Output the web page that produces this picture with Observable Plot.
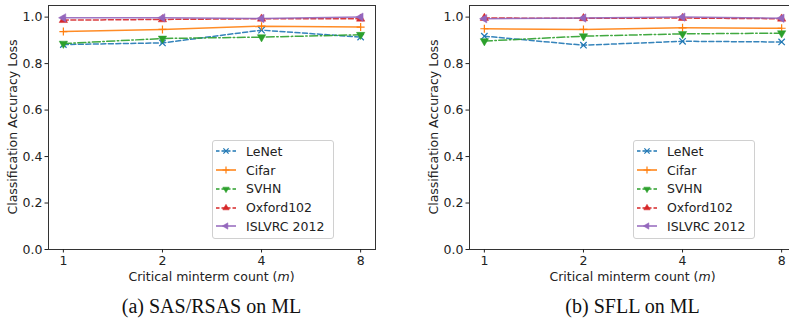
<!DOCTYPE html>
<html>
<head>
<meta charset="utf-8">
<script src="https://cdn.jsdelivr.net/npm/d3@7"></script>
<script src="https://cdn.jsdelivr.net/npm/@observablehq/plot@0.6"></script>
<style>
  body { margin: 0; background: #fff; }
  #root { position: relative; width: 789px; height: 322px; overflow: hidden; font-family: "DejaVu Sans", sans-serif; color: #222; }
  .panel { position: absolute; top: 0; width: 400px; height: 290px; }
  .panel svg { max-width: none !important; width: 400px; height: 290px; }
  .ylab { position: absolute; font-size: 12.5px; white-space: nowrap; transform: translate(-50%, -50%) rotate(-90deg); }
  .xlab { position: absolute; font-size: 12.5px; white-space: nowrap; transform: translate(-50%, -50%); }
  .cap { position: absolute; font-family: "Liberation Serif", serif; font-size: 20px; white-space: nowrap; transform: translate(-50%, 0); color: #111; }
  .legend { position: absolute; width: 120px; height: 96px; border: 1px solid #d0d0d0; border-radius: 3px; background: rgba(255,255,255,0.85); padding-top: 1px; box-sizing: content-box; }
  .row { height: 18.75px; display: flex; align-items: center; font-size: 12.5px; }
  .row svg { margin-left: 3px; margin-right: 10px; flex: none; }
</style>
</head>
<body>
<div id="root"></div>
<script>
// ---- data ----
const mValues = [1, 2, 4, 8];
const seriesNames = ["LeNet", "Cifar", "SVHN", "Oxford102", "ISLVRC 2012"];

// (a) SAS/RSAS on ML
const sasLeNet   = [0.882, 0.889, 0.944, 0.914];
const sasCifar   = [0.938, 0.947, 0.961, 0.957];
const sasSVHN    = [0.886, 0.908, 0.914, 0.924];
const sasOxford  = [0.987, 0.990, 0.993, 0.993];
const sasISLVRC  = [0.997, 0.997, 0.994, 1.000];

// (b) SFLL on ML
const sfllLeNet  = [0.918, 0.879, 0.896, 0.893];
const sfllCifar  = [0.950, 0.947, 0.954, 0.952];
const sfllSVHN   = [0.897, 0.918, 0.928, 0.931];
const sfllOxford = [0.996, 0.995, 0.996, 0.993];
const sfllISLVRC = [0.993, 0.996, 1.000, 0.995];

const yTicks = [0, 0.2, 0.4, 0.6, 0.8, 1.0];
const xLabel = "Critical minterm count";
const yLabel = "Classification Accuracy Loss";
const captions = ["(a) SAS/RSAS on ML", "(b) SFLL on ML"];

// ---- styles ----
const colors = ["#1f77b4", "#ff7f0e", "#2ca02c", "#d62728", "#9467bd"];
const dashes = ["5,2.5", null, "8,2.5,1.5,2.5", "5,2.5", null];
const symbols = ["times", "plus", "triangle", "triangle", "triangle"];
const rotations = [0, 0, 180, 0, -90];
const filled = [false, false, true, true, true];
const radii = [3, 2.7, 3.1, 3.1, 3.1];
const legendRadii = [2.5, 2.4, 2.4, 2.4, 2.4];

function rows(seriesArrays) {
  const out = [];
  seriesArrays.forEach((vals, i) => {
    vals.forEach((v, j) => out.push({series: seriesNames[i], idx: i, m: mValues[j], loss: v}));
  });
  return out;
}

function panel(seriesArrays, left) {
  const data = rows(seriesArrays);
  const marks = [Plot.frame({stroke: "#333", strokeWidth: 1})];
  seriesNames.forEach((name, i) => {
    const d = data.filter(r => r.idx === i);
    marks.push(Plot.line(d, {x: "m", y: "loss", stroke: colors[i], strokeWidth: 1.5, strokeOpacity: 0.9,
      strokeDasharray: dashes[i] || undefined}));
  });
  seriesNames.forEach((name, i) => {
    const d = data.filter(r => r.idx === i);
    marks.push(Plot.dot(d, {x: "m", y: "loss", symbol: () => symbols[i], r: radii[i],
      rotate: rotations[i],
      fill: filled[i] ? colors[i] : "none", stroke: colors[i], strokeWidth: filled[i] ? 0.5 : 1.2}));
  });
  marks.push(Plot.axisY({ticks: yTicks, tickFormat: d3.format(".1f"), tickSize: 3.5, tickPadding: 2.5, label: null}));
  marks.push(Plot.axisX({ticks: mValues, tickFormat: d => String(d), tickSize: 3.5, tickPadding: 3, label: null}));
  const svg = Plot.plot({
    width: 400, height: 290,
    marginLeft: 48, marginRight: 25, marginTop: 5, marginBottom: 41,
    style: {fontFamily: "DejaVu Sans, sans-serif", fontSize: "12.5px", color: "#222", background: "transparent", overflow: "visible", maxWidth: "none"},
    x: {type: "log", base: 2, domain: [Math.pow(2, -0.15), Math.pow(2, 3.15)]},
    y: {domain: [0, 1.05]},
    marks
  });
  const wrap = document.createElement("div");
  wrap.className = "panel";
  wrap.style.left = left + "px";
  wrap.appendChild(svg);
  return wrap;
}

function legend(left, top) {
  const box = document.createElement("div");
  box.className = "legend";
  box.style.left = left + "px";
  box.style.top = top + "px";
  seriesNames.forEach((name, i) => {
    const row = document.createElement("div");
    row.className = "row";
    const s = d3.create("svg").attr("width", 20).attr("height", 12);
    s.append("line").attr("x1", 0).attr("x2", 20).attr("y1", 6).attr("y2", 6)
      .attr("stroke", colors[i]).attr("stroke-width", 1.5).attr("stroke-dasharray", dashes[i] ? "3.5,2" : null);
    const symType = {times: d3.symbolTimes, plus: d3.symbolPlus, triangle: d3.symbolTriangle}[symbols[i]];
    s.append("path").attr("d", d3.symbol(symType, Math.PI * legendRadii[i] * legendRadii[i])())
      .attr("transform", `translate(10,6) rotate(${rotations[i]})`)
      .attr("fill", filled[i] ? colors[i] : "none").attr("stroke", colors[i]).attr("stroke-width", filled[i] ? 0.5 : 1.2);
    row.appendChild(s.node());
    const t = document.createElement("span");
    t.textContent = name;
    row.appendChild(t);
    box.appendChild(row);
  });
  return box;
}

const root = document.getElementById("root");
const panels = [
  {series: [sasLeNet, sasCifar, sasSVHN, sasOxford, sasISLVRC], left: 0},
  {series: [sfllLeNet, sfllCifar, sfllSVHN, sfllOxford, sfllISLVRC], left: 421}
];
panels.forEach((p, k) => {
  root.appendChild(panel(p.series, p.left));
  const cx = p.left + 48 + 327 / 2;
  const yl = document.createElement("div");
  yl.className = "ylab"; yl.textContent = yLabel;
  yl.style.left = (p.left + 12) + "px"; yl.style.top = "127px";
  root.appendChild(yl);
  const xl = document.createElement("div");
  xl.className = "xlab";
  xl.innerHTML = xLabel + " (<i>m</i>)";
  xl.style.left = cx + "px"; xl.style.top = "276px";
  root.appendChild(xl);
  const cap = document.createElement("div");
  cap.className = "cap"; cap.textContent = captions[k];
  cap.style.left = cx + "px"; cap.style.top = "295px";
  root.appendChild(cap);
  root.appendChild(legend(p.left + 212, 140));
});
</script>
</body>
</html>
